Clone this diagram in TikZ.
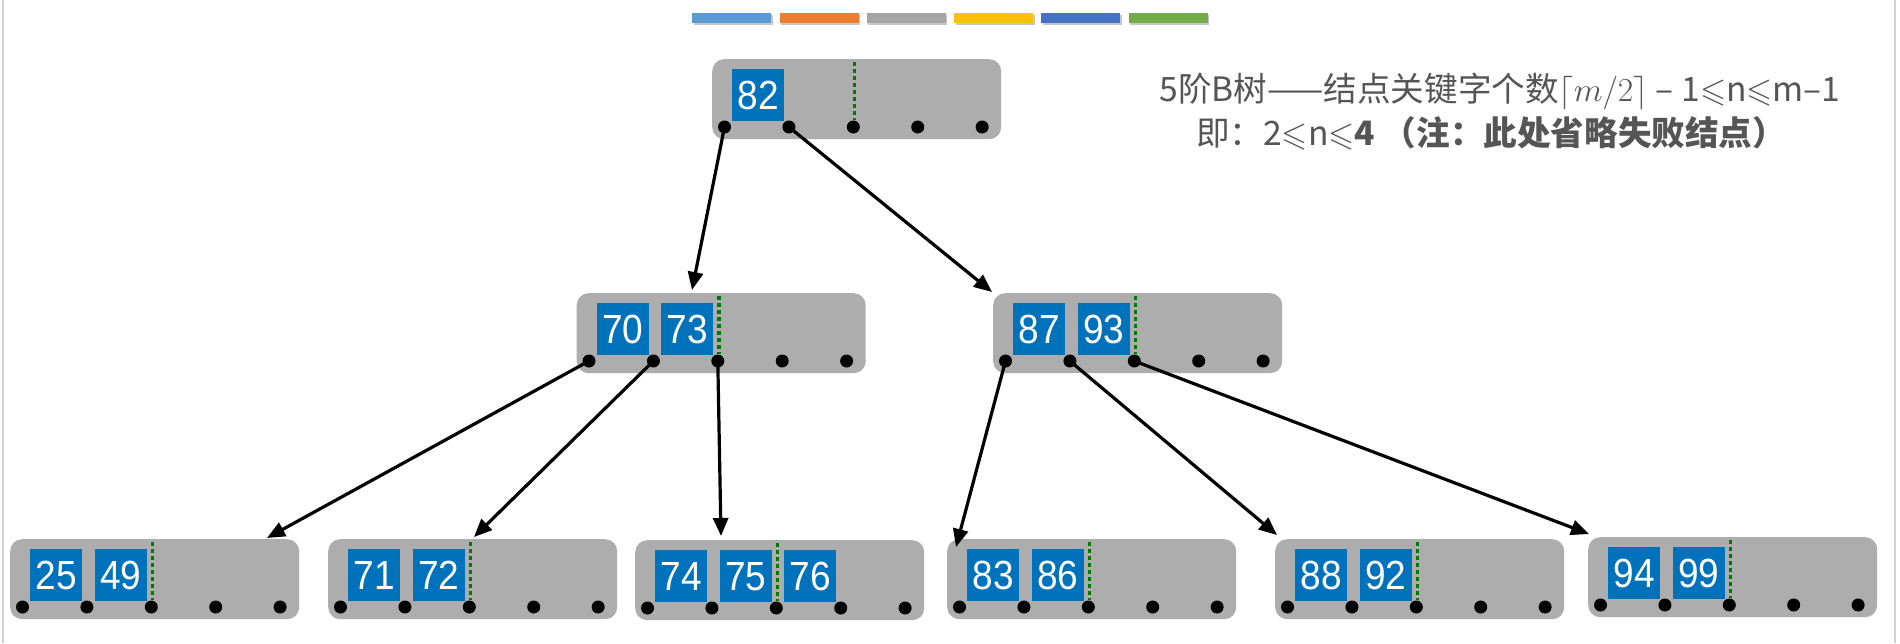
\documentclass[tikz,border=0pt]{standalone}
\usepackage{fix-cm}
\usepackage{fontspec}
\usepackage{amssymb}
\usepackage{graphicx}
\setmainfont{Liberation Sans}
\newfontfamily\cjk{Noto Sans CJK SC}
\usetikzlibrary{arrows.meta}
\definecolor{boxgray}{HTML}{ADADAD}
\definecolor{keyblue}{HTML}{0072BC}
\definecolor{splitgreen}{HTML}{007A00}
\definecolor{notegray}{HTML}{555555}
\definecolor{barA}{HTML}{5B9BD5}
\definecolor{barB}{HTML}{ED7D31}
\definecolor{barC}{HTML}{A5A5A5}
\definecolor{barD}{HTML}{FFC000}
\definecolor{barE}{HTML}{4472C4}
\definecolor{barF}{HTML}{70AD47}
\newcommand\keytxt[1]{\scalebox{1}[1.1]{#1}}
\tikzset{
  nodebox/.style={fill=boxgray, rounded corners=12pt, draw=none, minimum width=289pt,
    minimum height=80pt, inner sep=0pt, anchor=north west},
  keybox/.style={fill=keyblue, minimum width=52pt, minimum height=52pt, inner sep=0pt,
    text=white, font=\fontsize{37}{37}\selectfont, anchor=north west},
  ptr/.style={circle, fill=black, minimum size=13pt, inner sep=0pt},
  splitline/.style={draw=splitgreen, line width=3.5pt, dash pattern=on 3.5pt off 3.5pt},
  link/.style={line width=3.2pt, -{Triangle[length=18pt,width=15pt]}},
  colorbar/.style={minimum width=79pt, minimum height=10pt, inner sep=0pt, anchor=north west},
  barshadow/.style={fill=black!22, minimum width=79pt, minimum height=10pt, inner sep=0pt, anchor=north west},
  notetext/.style={text=notegray, font=\cjk\fontsize{33.6}{46}\selectfont, align=center, inner sep=0pt}
}
\newcommand\btnode[4]{%
  \node[nodebox] (#1) at (#2,#3) {};
  \foreach \k [count=\i] in {#4}
    \path (#1.north west) ++({20+64.5*(\i-1)},10) node[keybox] (#1-k\i) {\keytxt{\k}};
  \draw[splitline] (#1.north west) ++(142.5,3) -- ++(0,58);
  \foreach \i in {1,...,5}
    \path (#1.north west) ++({12.5+64.4*(\i-1)},68) node[ptr] (#1-d\i) {};
}
\begin{document}
\begin{tikzpicture}[x=1pt,y=-1pt]
\useasboundingbox (0,0) rectangle (1900,643);
\fill[white] (0,0) rectangle (1900,643);
\draw[black!18, line width=1.5pt] (3,0) -- (3,643);
\draw[black!18, line width=1.5pt] (1895,0) -- (1895,643);
% colour bars
\foreach \c [count=\i] in {barA,barB,barC,barD,barE,barF}{
  \node[barshadow] (sh\i) at ({692+87.3*(\i-1)+1.5},15) {};
  \node[colorbar, fill=\c] (bar\i) at ({692+87.3*(\i-1)},13) {};
}
% note
\node[notetext] (note1) at (1500,91) {5阶B树——结点关键字个数$\lceil m/2\rceil$ – 1$\leqslant$n$\leqslant$m–1};
\node[notetext] (note2) at (1491,133) {即：2$\leqslant$n$\leqslant$\textbf{4 （注：此处省略失败结点）}};
% tree nodes
\btnode{root}{712}{59}{82}
\btnode{ml}{576.5}{293}{70,73}
\btnode{mr}{993}{293}{87,93}
\btnode{ba}{10}{539}{25,49}
\btnode{bb}{328}{539}{71,72}
\btnode{bc}{635}{540}{74,75,76}
\btnode{bd}{947}{539}{83,86}
\btnode{be}{1275}{539}{88,92}
\btnode{bf}{1588}{537}{94,99}
% arrow targets
\coordinate (t1) at (692,290);
\coordinate (t2) at (992,292);
\coordinate (t3) at (267,538);
\coordinate (t4) at (474,537);
\coordinate (t5) at (721,536);
\coordinate (t6) at (956,547);
\coordinate (t7) at (1277,535);
\coordinate (t8) at (1589,534);
\draw[link] (root-d1.center) -- (t1);
\draw[link] (root-d2.center) -- (t2);
\draw[link] (ml-d1.center) -- (t3);
\draw[link] (ml-d2.center) -- (t4);
\draw[link] (ml-d3.center) -- (t5);
\draw[link] (mr-d1.center) -- (t6);
\draw[link] (mr-d2.center) -- (t7);
\draw[link] (mr-d3.center) -- (t8);
\end{tikzpicture}
\end{document}
